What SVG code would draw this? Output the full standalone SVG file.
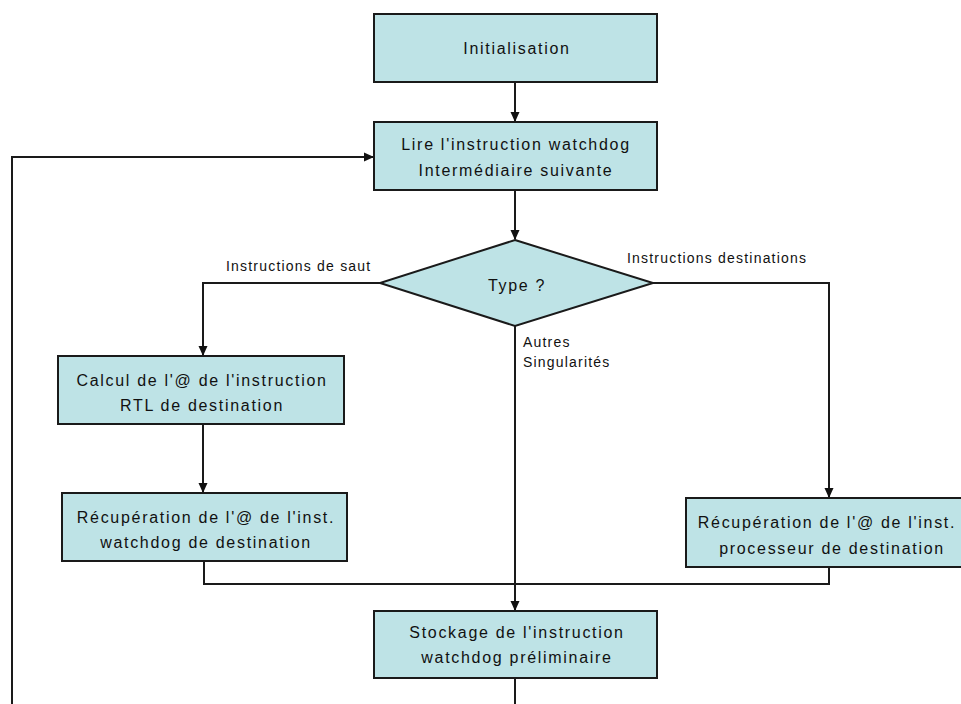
<svg xmlns="http://www.w3.org/2000/svg" width="961" height="704" viewBox="0 0 961 704">
<defs>
<style>
.box{fill:#bee3e6;stroke:#1a1a1a;stroke-width:2}
.t{font-family:"Liberation Sans",Arial,sans-serif;font-size:16px;fill:#111;text-anchor:middle;letter-spacing:1.7px}
.lbl{font-family:"Liberation Sans",Arial,sans-serif;font-size:14px;fill:#111;letter-spacing:1.2px}
.c{fill:none;stroke:#1a1a1a;stroke-width:2}
</style>
<marker id="ar" markerWidth="10" markerHeight="10" refX="9" refY="5" orient="auto" markerUnits="userSpaceOnUse" viewBox="0 0 10 10">
<path d="M0,0.5 L10,5 L0,9.5 Z" fill="#111"/>
</marker>
</defs>
<g id="connectors">
<path class="c" d="M515,82 V121" marker-end="url(#ar)"/>
<path class="c" d="M515,190 V239" marker-end="url(#ar)"/>
<path class="c" d="M380,283 H203 V355" marker-end="url(#ar)"/>
<path class="c" d="M653,283 H829 V497" marker-end="url(#ar)"/>
<path class="c" d="M203,424 V492" marker-end="url(#ar)"/>
<path class="c" d="M515,326 V610" marker-end="url(#ar)"/>
<path class="c" d="M204,561 V584 H829 V568"/>
<path class="c" d="M515,678 V704"/>
<path class="c" d="M12,704 V157 H373" marker-end="url(#ar)"/>
</g>
<g id="n-init">
<rect class="box" x="374" y="14" width="283" height="68"/>
<text class="t" x="517" y="54">Initialisation</text>
</g>
<g id="n-lire">
<rect class="box" x="374" y="122" width="283" height="68"/>
<text class="t" x="516" y="150">Lire l'instruction watchdog</text>
<text class="t" x="516" y="176">Intermédiaire suivante</text>
</g>
<g id="n-type">
<polygon class="box" points="515,240 653,283 515,326 380,283"/>
<text class="t" x="517" y="291">Type ?</text>
</g>
<g id="n-calcul">
<rect class="box" x="58" y="356" width="286" height="68"/>
<text class="t" x="202" y="386">Calcul de l'@ de l'instruction</text>
<text class="t" x="202" y="411">RTL de destination</text>
</g>
<g id="n-recup-wd">
<rect class="box" x="62" y="493" width="285" height="68"/>
<text class="t" x="206" y="523">Récupération de l'@ de l'inst.</text>
<text class="t" x="206" y="548">watchdog de destination</text>
</g>
<g id="n-recup-proc">
<rect class="box" x="686" y="498" width="278" height="69"/>
<text class="t" x="827" y="528">Récupération de l'@ de l'inst.</text>
<text class="t" x="832" y="554">processeur de destination</text>
</g>
<g id="n-stockage">
<rect class="box" x="374" y="611" width="283" height="67"/>
<text class="t" x="517" y="638">Stockage de l'instruction</text>
<text class="t" x="517" y="663">watchdog préliminaire</text>
</g>
<g id="labels">
<text class="lbl" x="226" y="271">Instructions de saut</text>
<text class="lbl" x="627" y="263">Instructions destinations</text>
<text class="lbl" x="523" y="347">Autres</text>
<text class="lbl" x="523" y="367">Singularités</text>
</g>
</svg>
